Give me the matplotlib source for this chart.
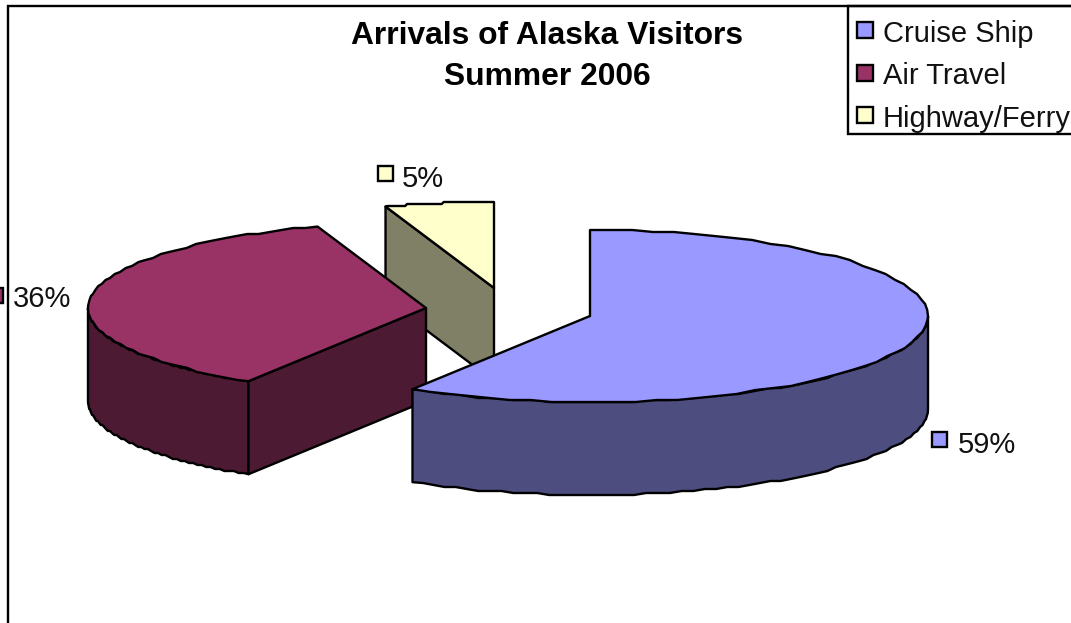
import numpy as np
import matplotlib
matplotlib.use("Agg")
import matplotlib.pyplot as plt
from matplotlib.patches import Polygon, Rectangle

plt.rcParams['font.family'] = ['Liberation Sans', 'DejaVu Sans']

categories = ["Cruise Ship", "Air Travel", "Highway/Ferry"]
shares = [58.8, 36.0, 5.2]
colors = ["#9999FF", "#993366", "#FFFFCC"]
wall_colors = ["#4D4D80", "#4D1A33", "#808066"]

RX, RY, DEPTH = 338, 86, 93
LW = 1.7
STEP = 2  # the original curves are slightly stepped, not smooth
# where each exploded slice ends up, in figure pixels
centers = [(590, 316), (426, 308), (494, 288)]
key_pos = [(932, 432), (-12, 288), (378, 166)]
pct_pos = [(958, 445), (13, 299), (402, 179)]


def arc(center, t0, t1):
    # angles are clockwise from 12 o'clock, like the pie starts
    t = np.radians(np.linspace(t0, t1, 60))
    pts = np.column_stack([center[0] + RX * np.sin(t), center[1] - RY * np.cos(t)])
    pts[1:-1, 1] = np.round(pts[1:-1, 1] / STEP) * STEP
    return pts


def add_poly(ax, pts, color):
    ax.add_patch(Polygon(pts, closed=True, facecolor=color, edgecolor="black",
                         linewidth=LW, joinstyle="round"))


def wall(ax, center, t0, t1, color):
    top = arc(center, t0, t1)
    bottom = top[::-1] + [0, DEPTH]
    add_poly(ax, np.vstack([top, bottom]), color)


def cut_face(ax, center, t, color):
    p = arc(center, t, t)[0]
    pts = [center, p, p + [0, DEPTH], (center[0], center[1] + DEPTH)]
    add_poly(ax, pts, color)


fig = plt.figure(figsize=(10.71, 6.23), dpi=100)
ax = fig.add_axes([0, 0, 1, 1])
ax.set_xlim(0, 1071)
ax.set_ylim(623, 0)
ax.axis("off")

edges = np.cumsum([0] + shares) / 100 * 360
cruise, air, ferry = 0, 1, 2

# back to front
cut_face(ax, centers[ferry], edges[ferry], wall_colors[ferry])
add_poly(ax, np.vstack([centers[ferry], arc(centers[ferry], edges[ferry], edges[ferry + 1])]), colors[ferry])

wall(ax, centers[air], edges[air], 270, wall_colors[air])
cut_face(ax, centers[air], edges[air], wall_colors[air])
add_poly(ax, np.vstack([centers[air], arc(centers[air], edges[air], edges[air + 1])]), colors[air])

wall(ax, centers[cruise], 90, edges[cruise + 1], wall_colors[cruise])
add_poly(ax, np.vstack([centers[cruise], arc(centers[cruise], edges[cruise], edges[cruise + 1])]), colors[cruise])

# chart frame, only the left and top sides show
ax.plot([8, 8, 1071], [623, 6, 6], color="black", lw=LW, solid_joinstyle="miter")

ax.text(547, 36, "Arrivals of Alaska Visitors", ha="center", va="center",
        fontsize=22.9, fontweight="bold")
ax.text(547, 77, "Summer 2006", ha="center", va="center",
        fontsize=22.9, fontweight="bold")

for i in range(3):
    ax.add_patch(Rectangle(key_pos[i], 15, 15, facecolor=colors[i], edgecolor="black", linewidth=LW))
    ax.text(pct_pos[i][0], pct_pos[i][1], f"{shares[i]:.0f}%", va="center", fontsize=21, color="#111111")

# legend box runs off the right edge
ax.add_patch(Rectangle((848, 6), 240, 128, facecolor="white", edgecolor="black", linewidth=LW))
for i, name in enumerate(categories):
    y = 30 + 42.5 * i
    ax.add_patch(Rectangle((857, y - 8), 16, 16, facecolor=colors[i], edgecolor="black", linewidth=LW))
    ax.text(883, y + 4, name, va="center", fontsize=21, color="#111111")

fig.savefig("out.png", dpi=100)
